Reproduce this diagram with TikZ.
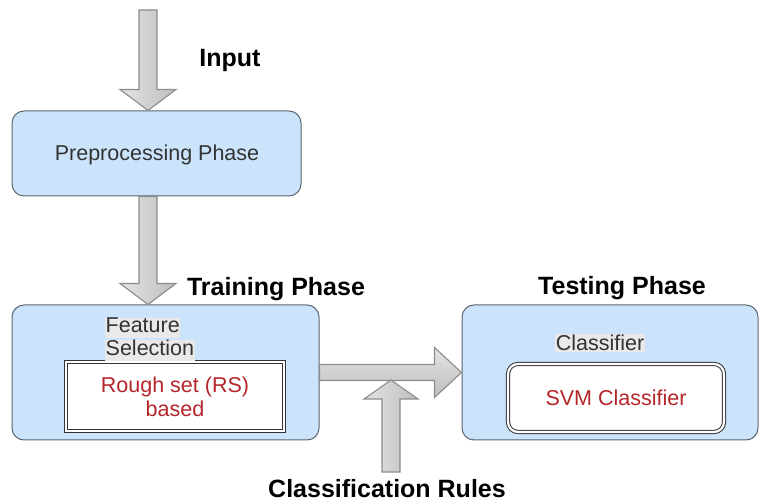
\documentclass[tikz,border=0pt]{standalone}
\usepackage{fontspec}
\setmainfont{Liberation Sans}
\usetikzlibrary{calc}
\definecolor{boxfill}{HTML}{CCE4FB}
\definecolor{boxline}{HTML}{5B6570}
\definecolor{txtgray}{HTML}{333333}
\definecolor{txtred}{HTML}{B5262B}
\definecolor{arrline}{HTML}{8C8C8C}
\definecolor{arrlight}{HTML}{E4E4E4}
\definecolor{arrdark}{HTML}{BEBEBE}
\definecolor{hl}{HTML}{E9E9E9}
\tikzset{
  phasebox/.style={draw=boxline, fill=boxfill, line width=1pt, rounded corners=12pt, inner sep=0pt},
  innerbox/.style={draw=txtgray, double=white, double distance=2.2pt, line width=1pt, fill=white, inner sep=0pt, align=center, text=txtred, font=\fontsize{21.5}{24}\selectfont},
  plain/.style={inner sep=1pt, text=txtgray, font=\fontsize{21.5}{24}\selectfont},
  hltext/.style={plain, fill=hl, inner sep=0.5pt, text depth=0pt},
  title/.style={inner sep=0pt, font=\fontsize{25}{28}\selectfont\bfseries},
  varr/.style={draw=arrline, line width=1.1pt, left color=arrlight, right color=arrdark, line join=miter},
  harr/.style={draw=arrline, line width=1.1pt, top color=arrlight, bottom color=arrdark, line join=miter},
}
\newcommand\blkdown[2]{\draw[varr] ($(#1)+(-9,0)$) -- ($(#2)+(-9,21)$) -- ($(#2)+(-28,21)$) -- (#2) -- ($(#2)+(28,21)$) -- ($(#2)+(9,21)$) -- ($(#1)+(9,0)$) -- cycle;}
\newcommand\blkup[2]{\draw[varr] ($(#1)+(-9,0)$) -- ($(#2)+(-9,-19)$) -- ($(#2)+(-27,-19)$) -- (#2) -- ($(#2)+(27,-19)$) -- ($(#2)+(9,-19)$) -- ($(#1)+(9,0)$) -- cycle;}
\newcommand\blkright[2]{\draw[harr] ($(#1)+(0,8)$) -- ($(#2)+(-27,8)$) -- ($(#2)+(-27,25)$) -- (#2) -- ($(#2)+(-27,-25)$) -- ($(#2)+(-27,-8)$) -- ($(#1)+(0,-8)$) -- cycle;}
\begin{document}
\begin{tikzpicture}[x=1pt,y=1pt]
\useasboundingbox (0,0) rectangle (759,502);
% boxes
\node[phasebox, minimum width=289pt, minimum height=85pt] (pre) at (156.5,348.5) {};
\node[plain] (pretxt) at (157,347) {Preprocessing Phase};
\node[phasebox, minimum width=307pt, minimum height=135pt] (train) at (165.5,129.5) {};
\node[phasebox, minimum width=296pt, minimum height=135pt] (test) at (610,129.5) {};
% inner boxes
\node[innerbox, minimum width=218pt, minimum height=69pt] (rs) at (175,105.5) {Rough set (RS)\\based};
\node[innerbox, rounded corners=10pt, minimum width=216pt, minimum height=68pt] (svm) at (616,104) {SVM Classifier};
% labels
\node[hltext, anchor=base west, text depth=5pt] (fs1) at (105,169) {Feature};
\node[hltext, anchor=base west, text depth=5pt] (fs2) at (105,146) {Selection};
\node[plain, fill=hl] (cl) at (600,159) {Classifier};
\node[title] (inlbl) at (230,441) {Input};
\node[title] (trlbl) at (276,213) {Training Phase};
\node[title] (telbl) at (622,214) {Testing Phase};
\node[title] (crlbl) at (387,13) {Classification Rules};
% connector ends
\coordinate (in1) at (148,492);
\coordinate (in1tip) at (in1 |- pre.north);
\coordinate (p2s) at (in1 |- pre.south);
\coordinate (p2t) at (in1 |- train.north);
\coordinate (cr) at (391,30);
\coordinate (crtip) at (391,122);
% arrows
\blkdown{in1}{in1tip}
\blkdown{p2s}{p2t}
\blkright{train.east}{test.west}
\blkup{cr}{crtip}
\end{tikzpicture}
\end{document}
